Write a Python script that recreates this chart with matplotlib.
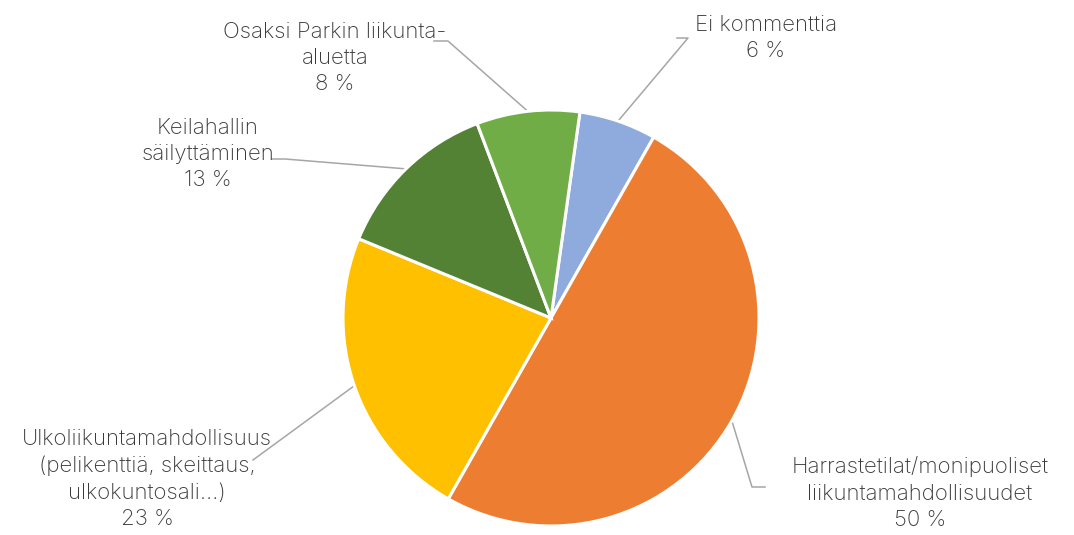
import numpy as np
import matplotlib.pyplot as plt

# data, in the order the slices run clockwise
labels = ['Ei kommenttia',
          'Harrastetilat/monipuoliset\nliikuntamahdollisuudet',
          'Ulkoliikuntamahdollisuus\n(pelikenttiä, skeittaus,\nulkokuntosali…)',
          'Keilahallin\nsäilyttäminen',
          'Osaksi Parkin liikunta-\naluetta']
values = [6, 50, 23, 13, 8]
colors = ['#8FAADC', '#ED7D31', '#FFC000', '#548235', '#70AD47']

# layout in pixels (figure is 1074x535, pie centre at 551,318, radius 208)
W, H = 1074, 535
cx, cy, R = 551, 318, 208
text_pos = [(766, 38), (920, 493), (147, 479), (208, 154), (335, 58)]
leader_start = [(677, 38), (765, 487), (253, 460), (272, 159), (434, 41)]
leader_elbow = [(688, 38), (752, 487), (253, 460), (285, 159), (448, 41)]


def px(p):
    return ((p[0] - cx) / R, (cy - p[1]) / R)


plt.rcParams['font.family'] = ['Inter', 'DejaVu Sans']
fig = plt.figure(figsize=(W / 100, H / 100), dpi=100)
ax = fig.add_axes([0, 0, 1, 1])

start = 82
wedges, _ = ax.pie(values, colors=colors, startangle=start, counterclock=False,
                   radius=1, center=(0, 0),
                   wedgeprops=dict(edgecolor='white', linewidth=2.2))

# pie() resets the limits, so set them afterwards
ax.set_xlim(-cx / R, (W - cx) / R)
ax.set_ylim(-(H - cy) / R, cy / R)
ax.set_aspect('equal')
ax.axis('off')

tot = sum(values)
for i, w in enumerate(wedges):
    mid = np.deg2rad((w.theta1 + w.theta2) / 2)
    tip = (np.cos(mid), np.sin(mid))
    s, e = px(leader_start[i]), px(leader_elbow[i])
    ax.plot([s[0], e[0], tip[0]], [s[1], e[1], tip[1]], color='#A6A6A6', lw=1.1,
            zorder=0.5)
    pct = round(values[i] / tot * 100)
    ax.text(*px(text_pos[i]), f'{labels[i]}\n{pct} %', ha='center', va='center',
            fontsize=16, color='#3A3A3A', fontweight='light', linespacing=1.4,
            zorder=3)

fig.savefig('out.png', dpi=100, facecolor='white')
